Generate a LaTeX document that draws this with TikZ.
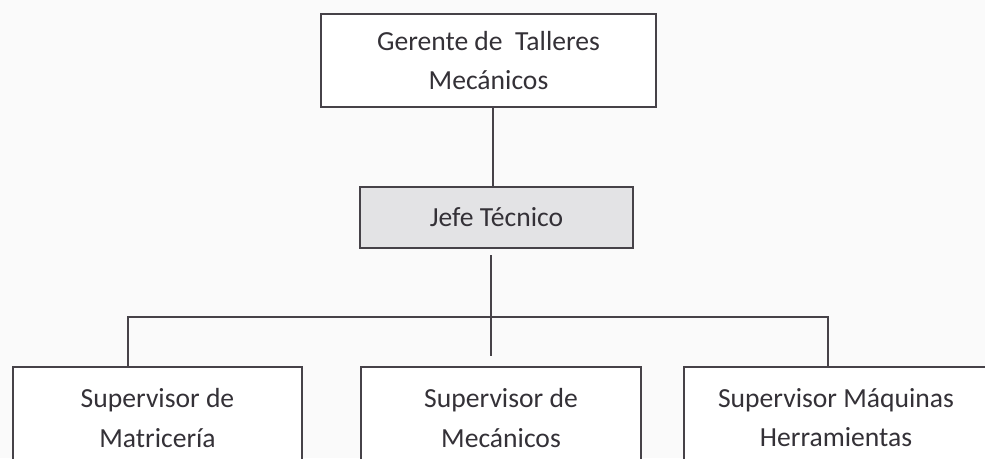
\documentclass[tikz,border=0pt]{standalone}
\usepackage{fontspec}
\setmainfont{Carlito}
\definecolor{OrgInk}{RGB}{52,49,55}
\definecolor{OrgLine}{RGB}{70,66,72}
\definecolor{OrgFill}{RGB}{227,227,229}
\definecolor{OrgPaper}{RGB}{250,250,250}
\usetikzlibrary{positioning,calc}

\begin{document}
\begin{tikzpicture}[x=0.75pt, y=-0.75pt,
        orgbox/.style={draw=OrgLine, line width=1.1pt, fill=white, text=OrgInk,
            font=\fontsize{20.7}{29.3}\selectfont, align=center, inner sep=0pt},
        link/.style={draw=OrgLine, line width=1.1pt}]
        \useasboundingbox (0,0) rectangle (985,458);
        \clip (0,0) rectangle (985,458);
        \fill[OrgPaper] (0,0) rectangle (985,458);
        % top levels
        \node[orgbox, minimum width=251.25pt, minimum height=69.75pt] (gerente) at (488.5,60.5) {Gerente de\ \ Talleres\\Mecánicos};
        \node[orgbox, fill=OrgFill, minimum width=204.75pt, minimum height=45.75pt] (jefe) at (496.5,217.5) {Jefe Técnico};
        % supervisors
        \foreach \n/\cx/\w/\lab in {matriceria/157.5/216.75pt/{Supervisor de\\Matricería}, mecanicos/501/210pt/{Supervisor de\\Mecánicos}, maquinas/836/228pt/{Supervisor Máquinas\\Herramientas}} {
            \node[orgbox, minimum width=\w, minimum height=76.5pt] (\n) at (\cx,418) {\lab};
        }
        % connectors
        \coordinate (busL) at (128,317);
        \coordinate (busR) at (828,317);
        \draw[link] ([xshift=3.4pt]gerente.south) -- ([xshift=3.4pt]gerente.south |- jefe.north);
        \draw[link, shorten <=5pt, shorten >=8pt] ([xshift=-4pt]jefe.south) -- ([xshift=-4pt]jefe.south |- mecanicos.north);
        \draw[link] (busL |- matriceria.north) -- (busL) -- (busR) -- (busR |- maquinas.north);
    \end{tikzpicture}
\end{document}
